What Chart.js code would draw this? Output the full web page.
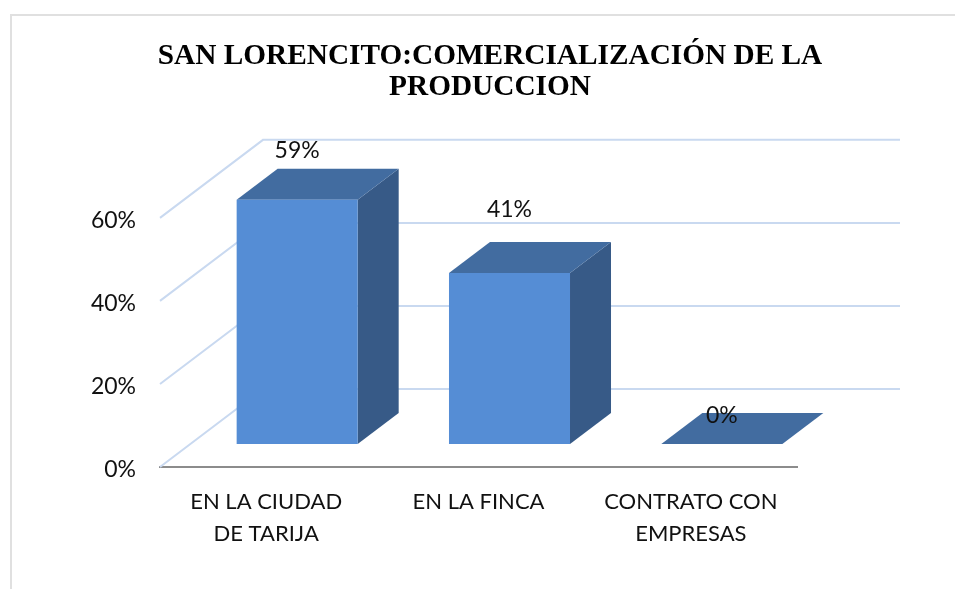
<!DOCTYPE html>
<html>
<head>
<meta charset="utf-8">
<style>
  html, body { margin: 0; padding: 0; background: #fff; }
  canvas { display: block; }
</style>
<script src="https://cdn.jsdelivr.net/npm/chart.js@4"></script>
</head>
<body>
<canvas id="chart" width="955" height="589"></canvas>
<script>
const categories = [['EN LA CIUDAD', 'DE TARIJA'], 'EN LA FINCA', ['CONTRATO CON', 'EMPRESAS']];
// bar heights, labels show them rounded
const values = [58.8, 41.2, 0];
const yTicks = [0, 20, 40, 60];
const titleLines = ['SAN LORENCITO:COMERCIALIZACIÓN DE LA', 'PRODUCCION'];

// pseudo 3d offsets, the picture was an Excel 3D column chart
const wall = { dx: 103, dy: -78 };
const barShift = { dx: 31, dy: -23 };
const barDepth = { dx: 41, dy: -31 };
// the labels were moved by hand in the original, so each has its own lift above the bar
const labelLift = [49, 63, 28];

function poly(ctx, pts, color) {
    ctx.beginPath();
    pts.forEach((p, i) => i ? ctx.lineTo(p[0], p[1]) : ctx.moveTo(p[0], p[1]));
    ctx.closePath();
    ctx.fillStyle = color;
    ctx.fill();
}

const frame = {
    id: 'frame',
    beforeDraw(chart) {
        const ctx = chart.ctx;
        ctx.save();
        ctx.strokeStyle = '#e0e0e0';
        ctx.lineWidth = 2;
        ctx.beginPath();
        ctx.moveTo(11, chart.height);
        ctx.lineTo(11, 15);
        ctx.lineTo(chart.width, 15);
        ctx.stroke();
        ctx.restore();
    }
};

const box3d = {
    id: 'box3d',
    beforeDatasetsDraw(chart) {
        const ctx = chart.ctx;
        const { left, right } = chart.chartArea;
        const y = chart.scales.y;
        ctx.save();
        // side wall and back wall lines
        ctx.strokeStyle = '#c9d9f0';
        ctx.lineWidth = 2;
        yTicks.forEach(v => {
            const py = y.getPixelForValue(v);
            ctx.beginPath();
            ctx.moveTo(left, py);
            ctx.lineTo(left + wall.dx, py + wall.dy);
            ctx.lineTo(right + wall.dx, py + wall.dy);
            ctx.stroke();
        });
        // top and side faces of the bars
        ctx.translate(barShift.dx, barShift.dy);
        chart.getDatasetMeta(0).data.forEach(bar => {
            const l = bar.x - bar.width / 2;
            const r = bar.x + bar.width / 2;
            const d = barDepth;
            poly(ctx, [[r, bar.y], [r + d.dx, bar.y + d.dy], [r + d.dx, bar.base + d.dy], [r, bar.base]], '#375a87');
            poly(ctx, [[l, bar.y], [l + d.dx, bar.y + d.dy], [r + d.dx, bar.y + d.dy], [r, bar.y]], '#426ca0');
        });
        // the front faces are drawn by chart.js inside this shift
    },
    afterDatasetsDraw(chart) {
        const ctx = chart.ctx;
        ctx.restore();
        ctx.save();
        ctx.font = '23px Lato';
        ctx.fillStyle = '#111';
        ctx.textAlign = 'center';
        ctx.textBaseline = 'middle';
        chart.getDatasetMeta(0).data.forEach((bar, i) => {
            ctx.fillText(Math.round(values[i]) + '%', bar.x + barShift.dx, bar.y + barShift.dy - labelLift[i]);
        });
        ctx.restore();
    }
};

new Chart(document.getElementById('chart'), {
    type: 'bar',
    data: {
        labels: categories,
        datasets: [{
            data: values,
            backgroundColor: '#558dd5',
            borderWidth: 0,
            categoryPercentage: 1,
            barPercentage: 0.57
        }]
    },
    options: {
        responsive: false,
        animation: false,
        layout: { padding: { left: 25, right: 0, top: 40, bottom: 0 } },
        plugins: {
            legend: { display: false },
            tooltip: { enabled: false },
            title: {
                display: true,
                text: titleLines,
                color: '#000',
                font: { family: 'Liberation Serif', size: 29.3, weight: 'bold', lineHeight: 1.09 },
                padding: { top: 0, bottom: 114 }
            }
        },
        scales: {
            x: {
                grid: { display: false },
                border: { display: true, color: '#8c8c8c', width: 2 },
                ticks: {
                    color: '#111',
                    font: { family: 'Lato', size: 22, lineHeight: 1.45 },
                    padding: 11,
                    maxRotation: 0,
                    autoSkip: false
                },
                afterFit(s) { s.height = 122; }
            },
            y: {
                min: 0,
                max: 60,
                grid: { display: false },
                border: { display: false },
                ticks: {
                    stepSize: 20,
                    color: '#111',
                    font: { family: 'Lato', size: 23 },
                    padding: 16,
                    labelOffset: 3,
                    callback: v => v + '%'
                },
                afterFit(s) { s.width = 135; }
            },
            // empty axis, keeps the title centred over the whole picture
            y2: {
                position: 'right',
                display: true,
                grid: { display: false },
                border: { display: false },
                ticks: { display: false },
                afterFit(s) { s.width = 158; }
            }
        }
    },
    plugins: [frame, box3d]
});
</script>
</body>
</html>
